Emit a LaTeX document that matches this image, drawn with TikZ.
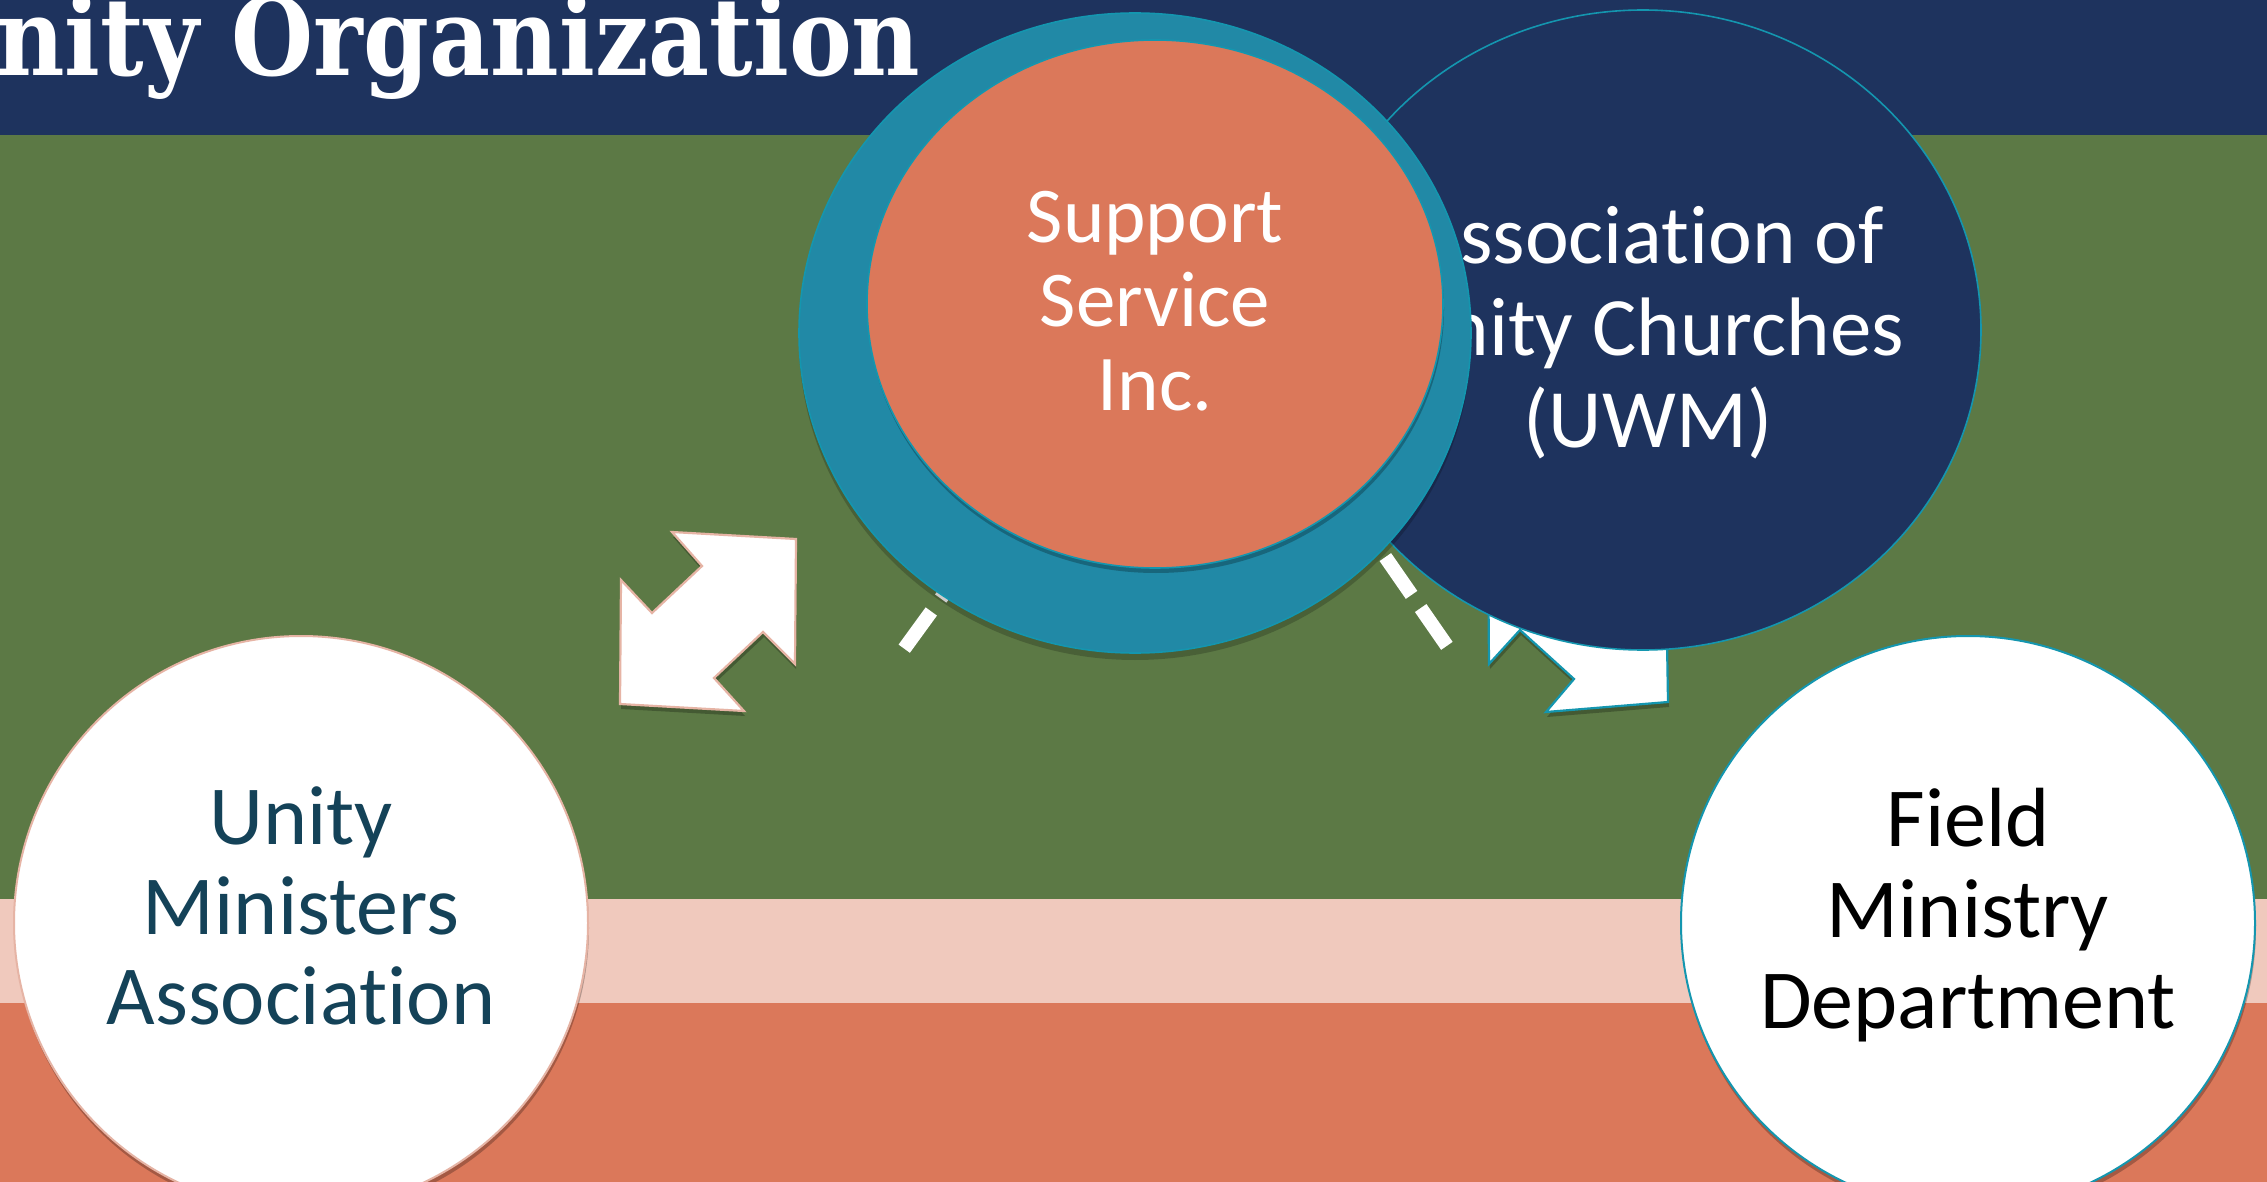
\documentclass[tikz,border=0pt]{standalone}
\usepackage{fontspec}
\usepackage{graphicx}
\setmainfont{Carlito}[Ligatures=NoCommon]
\newfontfamily\titlefont{DejaVu Serif}
\usetikzlibrary{shapes.geometric,shadows}
\definecolor{navy}{RGB}{30,51,94}
\definecolor{bandgreen}{RGB}{92,121,69}
\definecolor{bandpink}{RGB}{240,201,189}
\definecolor{bandorange}{RGB}{219,120,90}
\definecolor{tealfill}{RGB}{33,137,166}
\definecolor{tealline}{RGB}{20,150,175}
\definecolor{textteal}{RGB}{20,66,88}
\definecolor{pinkline}{RGB}{230,180,165}
\begin{document}
\begin{tikzpicture}[x=0.5pt,y=-0.5pt,
  titletext/.style={font=\titlefont\bfseries\fontsize{54}{60}\selectfont, text=white, inner sep=0pt},
  orb/.style={ellipse, inner sep=0pt},
  orbtext/.style={align=center, inner sep=0pt},
  dashline/.style={white, line width=7pt},
  blockarrow/.style={fill=white, line width=1.1pt, line join=miter},
  softshadow/.style={drop shadow={shadow xshift=0.5pt, shadow yshift=-2.5pt, opacity=0.25, fill=black}}
]
\useasboundingbox (0,0) rectangle (2267,1182);
\clip (0,0) rectangle (2267,1182);
% background bands
\fill[navy] (0,0) rectangle (2267,135);
\fill[bandgreen] (0,135) rectangle (2267,899);
\fill[bandpink] (0,899) rectangle (2267,1003);
\fill[bandorange] (0,1003) rectangle (2267,1182);
% title
\node[titletext, anchor=base west] (title) at (-4,76) {\resizebox{462pt}{\height}{nity Organization}};
% named points
\coordinate (supc) at (1155,304);
\coordinate (endL) at (896,660);
\coordinate (endR) at (1456,659);
\coordinate (srcR) at (1300,434);
% dashed connectors (under the circles)
\draw[dashline, dash=on 23pt off 8pt phase 24pt] (endL) -- (supc);
\draw[dashline, dash=on 23pt off 8pt phase 23pt] (endR) -- (srcR);
% right double arrow (under the navy circle)
\draw[blockarrow, draw=tealline, softshadow] (1668,702) -- (1546,712) -- (1574,679) -- (1520,630) -- (1489,664) -- (1488,540) -- (1612,532) -- (1582,566) -- (1632,612) -- (1666,580) -- cycle;
% Association circle
\node[orb, fill=navy, draw=tealline, line width=0.8pt, minimum width=338pt, minimum height=320pt] (assoc) at (1643,330) {};
\node[orbtext, text=white, font=\fontsize{41.5}{46}\selectfont] (assoctext) at (1648,333) {Associat\kern0pt ion of\\Unity Churches\\(UWM)};
% Support Service circle
\node[orb, fill=tealfill, draw=tealline, line width=0.8pt, minimum width=336pt, minimum height=320pt, drop shadow={shadow xshift=0pt, shadow yshift=-3.5pt, opacity=0.2, fill=black}] (ring) at (1135,333) {};
\node[orb, fill=bandorange, draw=tealline, line width=0.8pt, minimum width=288pt, minimum height=264pt, softshadow] (sup) at (supc) {};
\node[orbtext, text=white, font=\fontsize{39.5}{42}\selectfont] (suptext) at (1155,301) {Support\\Service\\Inc.};
% left double arrow
\draw[blockarrow, draw=pinkline, softshadow] (796,539) -- (672,532) -- (702,566) -- (652,613) -- (621,580) -- (620,704) -- (744,711) -- (714,678) -- (763,632) -- (795,664) -- cycle;
% Unity Ministers Association circle
\node[orb, fill=white, draw=pinkline, line width=1pt, minimum width=287pt, minimum height=287pt, softshadow] (uma) at (301,923) {};
\node[orbtext, text=textteal, font=\fontsize{42}{45}\selectfont] (umatext) at (301,906) {Unity\\Ministers\\Associat\kern0pt ion};
% Field Ministry Department circle
\node[orb, fill=white, draw=tealline, line width=1pt, minimum width=287pt, minimum height=287pt, softshadow] (fmd) at (1968,923) {};
\node[orbtext, text=black, font=\fontsize{42}{45.5}\selectfont] (fmdtext) at (1968,915) {Field\\Ministry\\Department};
\end{tikzpicture}
\end{document}
